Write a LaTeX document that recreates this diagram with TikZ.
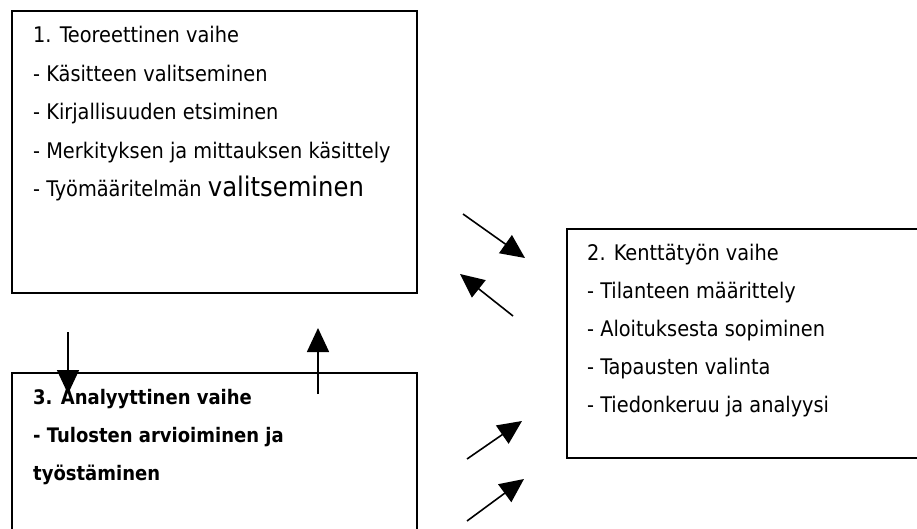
\documentclass[tikz,border=0pt]{standalone}
\usepackage{fontspec}
\setmainfont{DejaVu Sans Condensed}
\usetikzlibrary{arrows.meta}
\begin{document}
\begin{tikzpicture}[x=1pt,y=-1pt,
  box/.style={draw=black,line width=1.8pt,rectangle,anchor=north west,inner sep=0pt,outer sep=0pt},
  txt/.style={anchor=base west,inner sep=0pt,font=\fontsize{21.5}{24}\selectfont},
  btxt/.style={txt,font=\fontsize{20}{24}\selectfont\bfseries},
  arr/.style={line width=1.6pt,-{Triangle[length=24pt,width=22pt]}}]
\useasboundingbox (0,0) rectangle (917,529);
\node[box,minimum width=405pt,minimum height=282pt] (b1) at (12,11) {};
\node[box,minimum width=360pt,minimum height=229pt] (b2) at (567,229) {};
\node[box,minimum width=405pt,minimum height=170pt] (b3) at (12,373) {};
\node[txt] (t11) at (33,43) {1. Teoreettinen vaihe};
\node[txt] (t12) at (33,82) {- Käsitteen valitseminen};
\node[txt] (t13) at (33,120) {- Kirjallisuuden etsiminen};
\node[txt] (t14) at (33,159) {- Merkityksen ja mittauksen käsittely};
\node[txt] (t15) at (33,197) {- Työmääritelmän {\fontsize{27}{29}\selectfont valitseminen}};
\node[txt] (t21) at (587,260) {2. Kenttätyön vaihe};
\node[txt] (t22) at (587,298) {- Tilanteen määrittely};
\node[txt] (t23) at (587,336) {- Aloituksesta sopiminen};
\node[txt] (t24) at (587,374) {- Tapausten valinta};
\node[txt] (t25) at (587,412) {- Tiedonkeruu ja analyysi};
\node[btxt] (t31) at (33,404) {3. Analyyttinen vaihe};
\node[btxt] (t32) at (33,442) {- Tulosten arvioiminen ja};
\node[btxt] (t33) at (33,480) {työstäminen};
\coordinate (a1s) at (463,214); \coordinate (a1e) at (525,258);
\coordinate (a2s) at (513,316); \coordinate (a2e) at (460,274);
\coordinate (a3s) at (467,459); \coordinate (a3e) at (522,421);
\coordinate (a4s) at (467,521); \coordinate (a4e) at (524,479);
\coordinate (a5s) at (68,332);  \coordinate (a5e) at (68,394);
\coordinate (a6s) at (318,394); \coordinate (a6e) at (318,328);
\draw[arr] (a1s) -- (a1e);
\draw[arr] (a2s) -- (a2e);
\draw[arr] (a3s) -- (a3e);
\draw[arr] (a4s) -- (a4e);
\draw[arr] (a5s) -- (a5e);
\draw[arr] (a6s) -- (a6e);
\end{tikzpicture}
\end{document}
